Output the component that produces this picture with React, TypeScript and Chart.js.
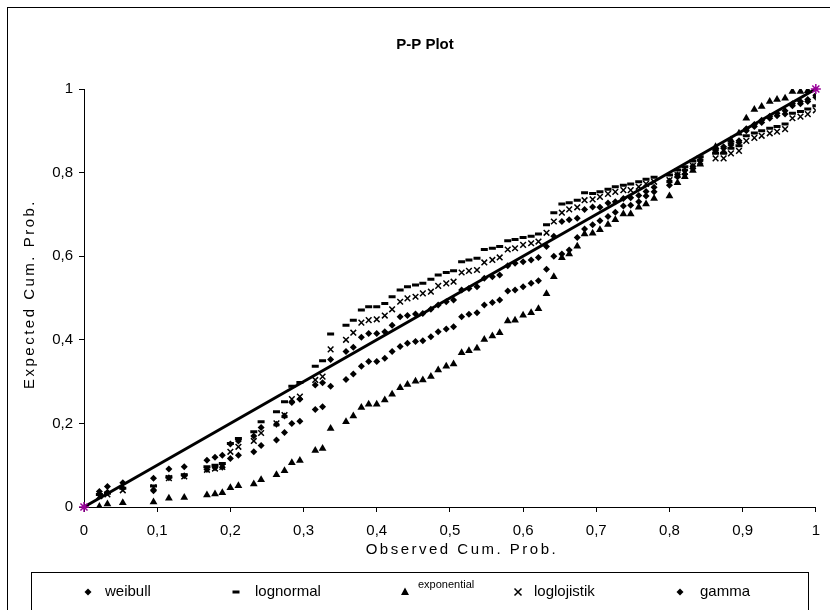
import React, { useEffect, useRef } from "react";
import { Chart, registerables } from "chart.js";

Chart.register(...registerables);

// Observed cumulative probabilities (shared by all fitted distributions)
const xObs = [
  0.021, 0.032, 0.053, 0.095, 0.116, 0.137, 0.168, 0.179, 0.189, 0.2,
  0.211, 0.232, 0.242, 0.263, 0.274, 0.284, 0.295, 0.316, 0.326, 0.337,
  0.358, 0.368, 0.379, 0.389, 0.4, 0.411, 0.421, 0.432, 0.442, 0.453,
  0.463, 0.474, 0.484, 0.495, 0.505, 0.516, 0.526, 0.537, 0.547, 0.558,
  0.568, 0.579, 0.589, 0.6, 0.611, 0.621, 0.632, 0.642, 0.653, 0.663,
  0.674, 0.684, 0.695, 0.705, 0.716, 0.726, 0.737, 0.747, 0.758, 0.768,
  0.779, 0.8, 0.811, 0.821, 0.832, 0.842, 0.863, 0.874, 0.884, 0.895,
  0.905, 0.916, 0.926, 0.937, 0.947, 0.958, 0.968, 0.979, 0.989, 1.0,
];

const weibull = [
  0.037, 0.049, 0.058, 0.069, 0.091, 0.096, 0.112, 0.119, 0.124, 0.151,
  0.158, 0.17, 0.19, 0.198, 0.218, 0.25, 0.258, 0.292, 0.297, 0.353,
  0.372, 0.382, 0.406, 0.415, 0.415, 0.419, 0.435, 0.455, 0.458, 0.462,
  0.463, 0.473, 0.483, 0.491, 0.495, 0.519, 0.523, 0.527, 0.547, 0.551,
  0.555, 0.577, 0.583, 0.587, 0.591, 0.597, 0.623, 0.648, 0.683, 0.687,
  0.691, 0.712, 0.718, 0.717, 0.727, 0.73, 0.738, 0.74, 0.745, 0.755,
  0.765, 0.78, 0.795, 0.805, 0.815, 0.83, 0.855, 0.862, 0.87, 0.876,
  0.905, 0.915, 0.925, 0.935, 0.942, 0.948, 0.965, 0.97, 0.975, 0.985,
];

const lognormal = [
  0.03, 0.033, 0.045, 0.05, 0.072, 0.077, 0.096, 0.1, 0.104, 0.152,
  0.164, 0.18, 0.204, 0.228, 0.252, 0.289, 0.298, 0.337, 0.35, 0.414,
  0.435, 0.447, 0.471, 0.479, 0.479, 0.487, 0.503, 0.519, 0.527, 0.531,
  0.535, 0.545, 0.555, 0.561, 0.565, 0.587, 0.591, 0.595, 0.616, 0.619,
  0.623, 0.637, 0.64, 0.645, 0.648, 0.653, 0.675, 0.704, 0.725, 0.728,
  0.734, 0.752, 0.75, 0.754, 0.76, 0.766, 0.77, 0.773, 0.778, 0.784,
  0.789, 0.794, 0.806, 0.814, 0.828, 0.838, 0.846, 0.846, 0.858, 0.864,
  0.888, 0.895, 0.9, 0.906, 0.91, 0.916, 0.942, 0.946, 0.952, 0.96,
];

const exponential = [
  0.001, 0.007, 0.01, 0.012, 0.021, 0.023, 0.029, 0.031, 0.034, 0.046,
  0.051, 0.055, 0.065, 0.077, 0.087, 0.106, 0.111, 0.135, 0.14, 0.188,
  0.204, 0.218, 0.238, 0.246, 0.246, 0.256, 0.27, 0.285, 0.293, 0.301,
  0.304, 0.312, 0.328, 0.337, 0.342, 0.369, 0.374, 0.38, 0.401, 0.409,
  0.417, 0.445, 0.447, 0.459, 0.465, 0.474, 0.51, 0.551, 0.596, 0.605,
  0.624, 0.653, 0.655, 0.663, 0.676, 0.687, 0.701, 0.701, 0.717, 0.725,
  0.738, 0.744, 0.776, 0.79, 0.805, 0.82, 0.862, 0.85, 0.878, 0.894,
  0.93, 0.951, 0.958, 0.97, 0.975, 0.978, 0.994, 0.994, 0.996, 1.0,
];

const loglojistik = [
  0.026, 0.03, 0.04, 0.047, 0.069, 0.073, 0.089, 0.092, 0.096, 0.132,
  0.144, 0.158, 0.177, 0.2, 0.22, 0.258, 0.264, 0.304, 0.312, 0.377,
  0.4, 0.417, 0.441, 0.447, 0.449, 0.458, 0.473, 0.491, 0.499, 0.503,
  0.511, 0.515, 0.529, 0.535, 0.539, 0.561, 0.565, 0.567, 0.585, 0.591,
  0.597, 0.616, 0.619, 0.627, 0.631, 0.635, 0.656, 0.683, 0.704, 0.712,
  0.717, 0.734, 0.736, 0.742, 0.749, 0.754, 0.758, 0.758, 0.766, 0.773,
  0.778, 0.782, 0.794, 0.802, 0.816, 0.826, 0.834, 0.834, 0.846, 0.852,
  0.876, 0.883, 0.888, 0.894, 0.898, 0.904, 0.93, 0.934, 0.94, 0.949,
];

const gamma = [
  0.03, 0.035, 0.045, 0.039, 0.07, 0.075, 0.09, 0.094, 0.095, 0.116,
  0.124, 0.132, 0.147, 0.16, 0.178, 0.2, 0.205, 0.233, 0.24, 0.289,
  0.305, 0.318, 0.337, 0.348, 0.348, 0.356, 0.372, 0.384, 0.392, 0.396,
  0.398, 0.407, 0.419, 0.426, 0.431, 0.455, 0.461, 0.465, 0.483, 0.489,
  0.495, 0.517, 0.519, 0.527, 0.535, 0.541, 0.569, 0.6, 0.605, 0.615,
  0.645, 0.665, 0.675, 0.685, 0.695, 0.705, 0.72, 0.722, 0.73, 0.744,
  0.754, 0.77, 0.79, 0.796, 0.81, 0.828, 0.852, 0.858, 0.866, 0.872,
  0.9, 0.91, 0.92, 0.93, 0.936, 0.94, 0.96, 0.965, 0.97, 0.98,
];

// Reference diagonal endpoints
const diagonalX = [0, 1];
const diagonalY = [0, 1];

const seriesNames = ["weibull", "lognormal", "exponential", "loglojistik", "gamma"];
const xTickLabels = ["0", "0,1", "0,2", "0,3", "0,4", "0,5", "0,6", "0,7", "0,8", "0,9", "1"];
const yTickLabels = ["0", "0,2", "0,4", "0,6", "0,8", "1"];
const chartTitle = "P-P Plot";
const xAxisTitle = "Observed Cum. Prob.";
const yAxisTitle = "Expected Cum. Prob.";

const FONT = "'Liberation Sans', Arial, sans-serif";

function drawMarker(ctx: CanvasRenderingContext2D, kind: string, x: number, y: number) {
  ctx.save();
  ctx.fillStyle = "#000";
  ctx.strokeStyle = "#000";
  ctx.beginPath();
  if (kind === "diamond") {
    ctx.moveTo(x, y - 3.5);
    ctx.lineTo(x + 3.5, y);
    ctx.lineTo(x, y + 3.5);
    ctx.lineTo(x - 3.5, y);
    ctx.closePath();
    ctx.fill();
  } else if (kind === "dash") {
    ctx.fillRect(x - 3.5, y - 1.5, 7, 3);
  } else if (kind === "triangle") {
    ctx.moveTo(x, y - 4.5);
    ctx.lineTo(x + 4, y + 3);
    ctx.lineTo(x - 4, y + 3);
    ctx.closePath();
    ctx.fill();
  } else if (kind === "x") {
    ctx.lineWidth = 1.5;
    ctx.moveTo(x - 3.5, y - 3.5);
    ctx.lineTo(x + 3.5, y + 3.5);
    ctx.moveTo(x + 3.5, y - 3.5);
    ctx.lineTo(x - 3.5, y + 3.5);
    ctx.stroke();
  }
  ctx.restore();
}

const decorPlugin = {
  id: "decor",
  afterDraw(chart: any) {
    const ctx: any = chart.ctx;
    const area = chart.chartArea;
    ctx.save();
    // outer frame
    ctx.strokeStyle = "#000";
    ctx.lineWidth = 1;
    ctx.strokeRect(0.5, 0.5, chart.width + 20, chart.height + 20);

    // title
    ctx.fillStyle = "#000";
    ctx.font = `bold 15px ${FONT}`;
    ctx.textAlign = "center";
    ctx.textBaseline = "middle";
    ctx.fillText(chartTitle, 418, 38);

    // axis titles
    ctx.font = `15px ${FONT}`;
    ctx.letterSpacing = "2.5px";
    ctx.fillText(xAxisTitle, (area.left + area.right) / 2 + 12, 543);
    ctx.save();
    ctx.translate(23, (area.top + area.bottom) / 2 - 4);
    ctx.rotate(-Math.PI / 2);
    ctx.fillText(yAxisTitle, 0, 0);
    ctx.restore();
    ctx.letterSpacing = "0px";

    // legend box
    ctx.strokeStyle = "#000";
    ctx.lineWidth = 1;
    ctx.strokeRect(24.5, 565.5, 777, 80);
    const items = [
      { kind: "diamond", mx: 81, tx: 98 },
      { kind: "dash", mx: 229, tx: 248 },
      { kind: "triangle", mx: 398, tx: 411 },
      { kind: "x", mx: 511, tx: 527 },
      { kind: "diamond", mx: 673, tx: 693 },
    ];
    const ly = 585;
    items.forEach((it, i) => {
      drawMarker(ctx, it.kind, it.mx, ly);
      ctx.textAlign = "left";
      ctx.textBaseline = "middle";
      if (seriesNames[i] === "exponential") {
        ctx.font = `11px ${FONT}`;
        ctx.fillText(seriesNames[i], it.tx, ly - 7);
      } else {
        ctx.font = `15px ${FONT}`;
        ctx.fillText(seriesNames[i], it.tx, ly);
      }
    });
    ctx.restore();
  },
};

const toPoints = (ys: number[]) => xObs.map((x, i) => ({ x, y: ys[i] }));

export default function App() {
  const ref = useRef<HTMLCanvasElement | null>(null);

  useEffect(() => {
    if (!ref.current) return;
    const markerBase = {
      showLine: false,
      borderColor: "#000",
      backgroundColor: "#000",
      pointBorderColor: "#000",
      pointBackgroundColor: "#000",
    };
    const chart = new Chart(ref.current, {
      type: "scatter",
      data: {
        datasets: [
          {
            label: "diagonal",
            data: diagonalX.map((x, i) => ({ x, y: diagonalY[i] })),
            showLine: true,
            clip: false,
            borderColor: "#000",
            borderWidth: 3,
            pointStyle: "star",
            pointRadius: 5,
            pointBorderWidth: 1.5,
            pointBorderColor: "#990099",
            pointBackgroundColor: "#990099",
          },
          {
            ...markerBase,
            label: seriesNames[0],
            data: toPoints(weibull),
            pointStyle: "rectRot",
            pointRadius: 3.5,
            pointBorderWidth: 0,
          },
          {
            ...markerBase,
            label: seriesNames[1],
            data: toPoints(lognormal),
            pointStyle: "line",
            pointRadius: 3.5,
            pointBorderWidth: 3,
          },
          {
            ...markerBase,
            label: seriesNames[2],
            data: toPoints(exponential),
            pointStyle: "triangle",
            pointRadius: 4.5,
            pointBorderWidth: 0,
          },
          {
            ...markerBase,
            label: seriesNames[3],
            data: toPoints(loglojistik),
            pointStyle: "crossRot",
            pointRadius: 4,
            pointBorderWidth: 1.5,
          },
          {
            ...markerBase,
            label: seriesNames[4],
            data: toPoints(gamma),
            pointStyle: "rectRot",
            pointRadius: 3.5,
            pointBorderWidth: 0,
          },
        ],
      },
      options: {
        responsive: false,
        animation: false,
        events: [],
        devicePixelRatio: 1,
        layout: { padding: { left: 37, right: 6, top: 82, bottom: 63 } },
        plugins: {
          legend: { display: false },
          title: { display: false },
          tooltip: { enabled: false },
        },
        scales: {
          x: {
            type: "linear",
            min: 0,
            max: 1,
            afterFit: (s: any) => {
              s.height = 40;
            },
            afterBuildTicks: (s: any) => {
              s.ticks = xTickLabels.map((_, i) => ({ value: i / (xTickLabels.length - 1) }));
            },
            ticks: {
              autoSkip: false,
              maxRotation: 0,
              padding: 10,
              color: "#000",
              font: { family: FONT, size: 15 },
              callback: (_v: any, i: number) => xTickLabels[i],
            },
            grid: { drawOnChartArea: false, drawTicks: true, tickLength: 5, color: "#000" },
            border: { color: "#000", width: 1 },
          },
          y: {
            type: "linear",
            min: 0,
            max: 1,
            afterFit: (s: any) => {
              s.width = 40;
            },
            afterBuildTicks: (s: any) => {
              s.ticks = yTickLabels.map((_, i) => ({ value: i / (yTickLabels.length - 1) }));
            },
            ticks: {
              autoSkip: false,
              padding: 6,
              color: "#000",
              font: { family: FONT, size: 15 },
              callback: (_v: any, i: number) => yTickLabels[i],
            },
            grid: { drawOnChartArea: false, drawTicks: true, tickLength: 5, color: "#000" },
            border: { color: "#000", width: 1 },
          },
        },
      },
      plugins: [decorPlugin],
    });
    return () => chart.destroy();
  }, []);

  return (
    <div style={{ position: "absolute", left: 7, top: 7, width: 823, height: 603, background: "#fff" }}>
      <canvas ref={ref} width={823} height={603} style={{ display: "block", width: 823, height: 603 }} />
    </div>
  );
}
